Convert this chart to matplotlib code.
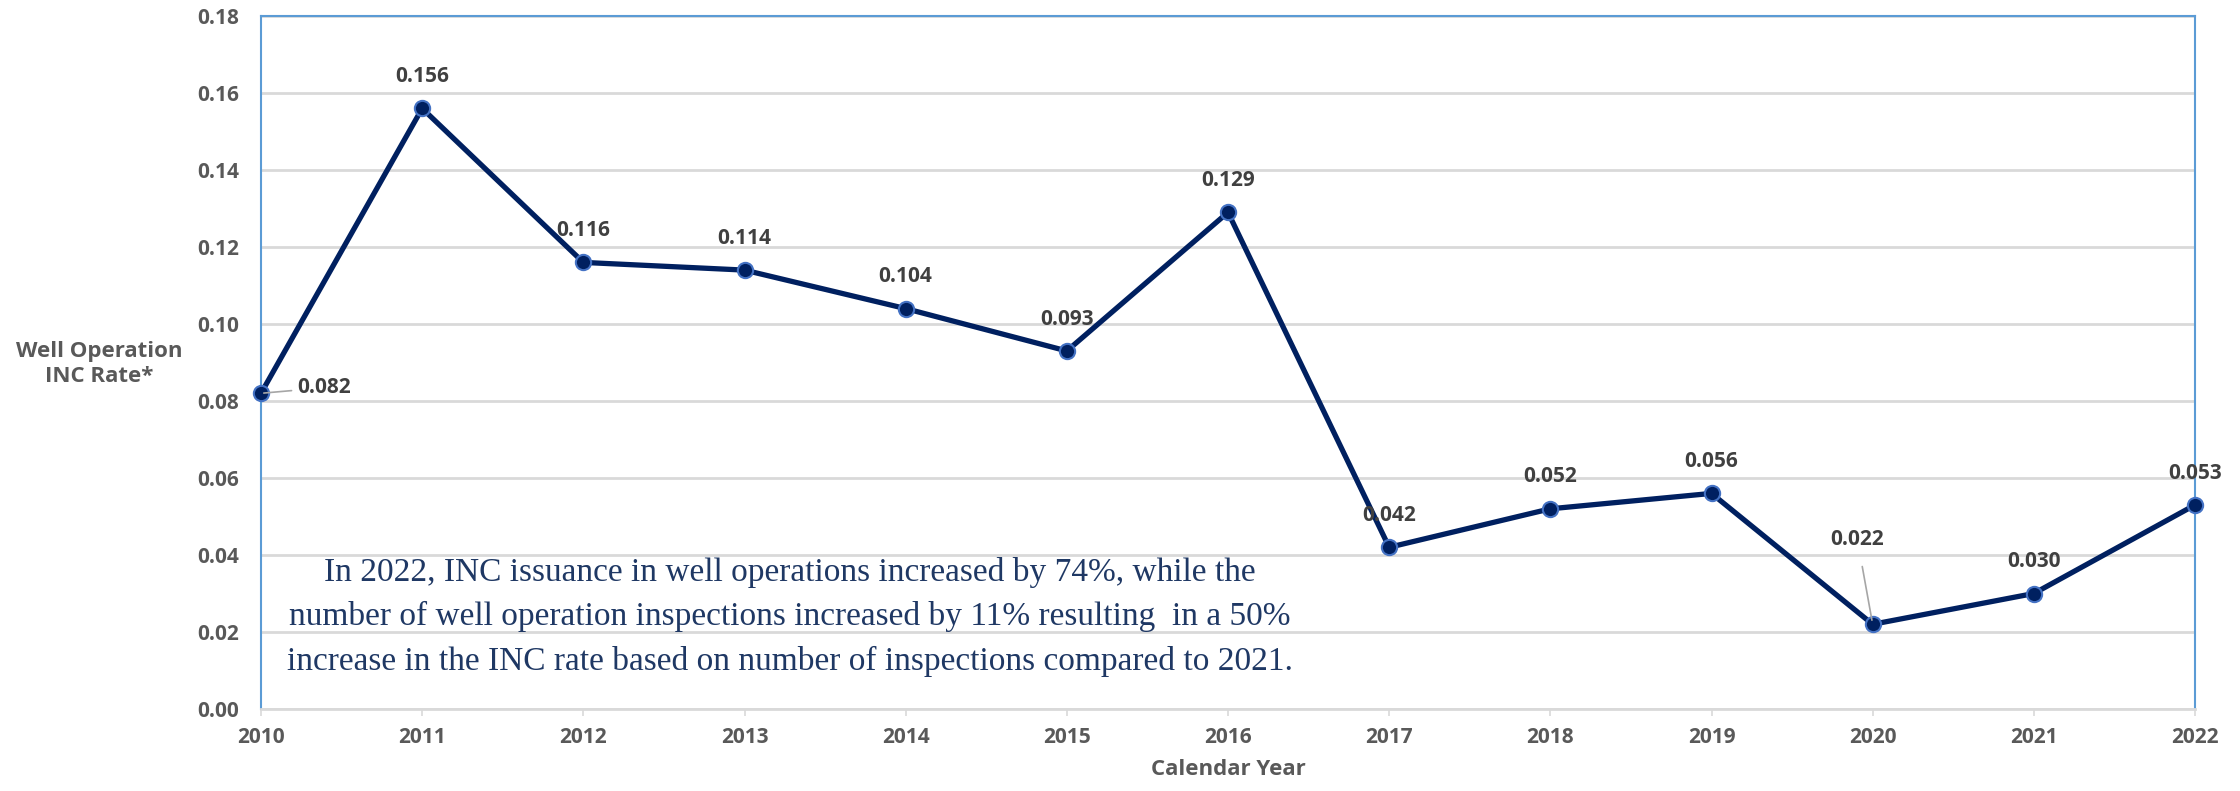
import matplotlib
matplotlib.use("Agg")
import matplotlib.pyplot as plt

# data
years = [2010, 2011, 2012, 2013, 2014, 2015, 2016, 2017, 2018, 2019, 2020, 2021, 2022]
inc_rate = [0.082, 0.156, 0.116, 0.114, 0.104, 0.093, 0.129, 0.042, 0.052, 0.056, 0.022, 0.030, 0.053]
rate_labels = ["0.082", "0.156", "0.116", "0.114", "0.104", "0.093", "0.129",
               "0.042", "0.052", "0.056", "0.022", "0.030", "0.053"]
y_ticks = [0.00, 0.02, 0.04, 0.06, 0.08, 0.10, 0.12, 0.14, 0.16, 0.18]
note = ("In 2022, INC issuance in well operations increased by 74%, while the\n"
        "number of well operation inspections increased by 11% resulting  in a 50%\n"
        "increase in the INC rate based on number of inspections compared to 2021.")

plt.rcParams['font.family'] = ['Open Sans', 'DejaVu Sans']
grey = "#595959"
fs = 15       # numbers
fs_title = 16 # axis titles

fig = plt.figure(figsize=(22.4, 7.91), dpi=100)
ax = fig.add_axes([261/2240, 1-709/791, (2195-261)/2240, (709-16)/791])

ax.plot(years, inc_rate, color="#002060", lw=3.8, marker="o", ms=11,
        mfc="#002060", mec="#4472c4", mew=1.5, zorder=3, clip_on=False)

ax.set_xlim(2010, 2022)
ax.set_ylim(0, 0.18)
ax.set_yticks(y_ticks)
ax.set_yticklabels(["%.2f" % v for v in y_ticks])
ax.set_xticks(years)
ax.grid(axis="y", color="#d9d9d9", lw=2)
ax.set_axisbelow(True)

for s in ["left", "right", "top"]:
    ax.spines[s].set_color("#5b9bd5")
    ax.spines[s].set_linewidth(1.5)
ax.spines["bottom"].set_color("#d9d9d9")
ax.spines["bottom"].set_linewidth(2)

ax.tick_params(axis="y", length=0, pad=16, labelsize=fs, labelcolor=grey)
ax.tick_params(axis="x", length=5, width=1.2, color="#d9d9d9", pad=8,
               labelsize=fs, labelcolor=grey)
for t in ax.get_xticklabels() + ax.get_yticklabels():
    t.set_fontweight("bold")

# data labels
for x, y, lab in zip(years, inc_rate, rate_labels):
    if x == 2010:
        ax.annotate(lab, (x, y), xytext=(26, 4), textcoords="offset points",
                    ha="left", va="center", fontsize=fs, fontweight="bold", color="#404040",
                    arrowprops=dict(arrowstyle="-", color="#a6a6a6", lw=1.2, shrinkA=2, shrinkB=2))
    elif x == 2020:
        ax.annotate(lab, (x, y), xytext=(-11, 61), textcoords="offset points",
                    ha="center", va="center", fontsize=fs, fontweight="bold", color="#404040",
                    arrowprops=dict(arrowstyle="-", color="#a6a6a6", lw=1.2, shrinkA=10, shrinkB=3))
    else:
        ax.annotate(lab, (x, y), xytext=(0, 23), textcoords="offset points",
                    ha="center", va="center", fontsize=fs, fontweight="bold", color="#404040")

ax.set_xlabel("Calendar Year", fontsize=fs_title, fontweight="bold", color=grey, labelpad=8)
fig.text(99/2240, 1-364/791, "Well Operation\nINC Rate*", ha="center", va="center",
         fontsize=fs_title, fontweight="bold", color=grey, linespacing=1.3)

fig.text(790/2240, 1-617/791, note, ha="center", va="center", family="Liberation Serif",
         fontsize=24, color="#1f3864", linespacing=1.55)

fig.savefig("out.png", dpi=100)
